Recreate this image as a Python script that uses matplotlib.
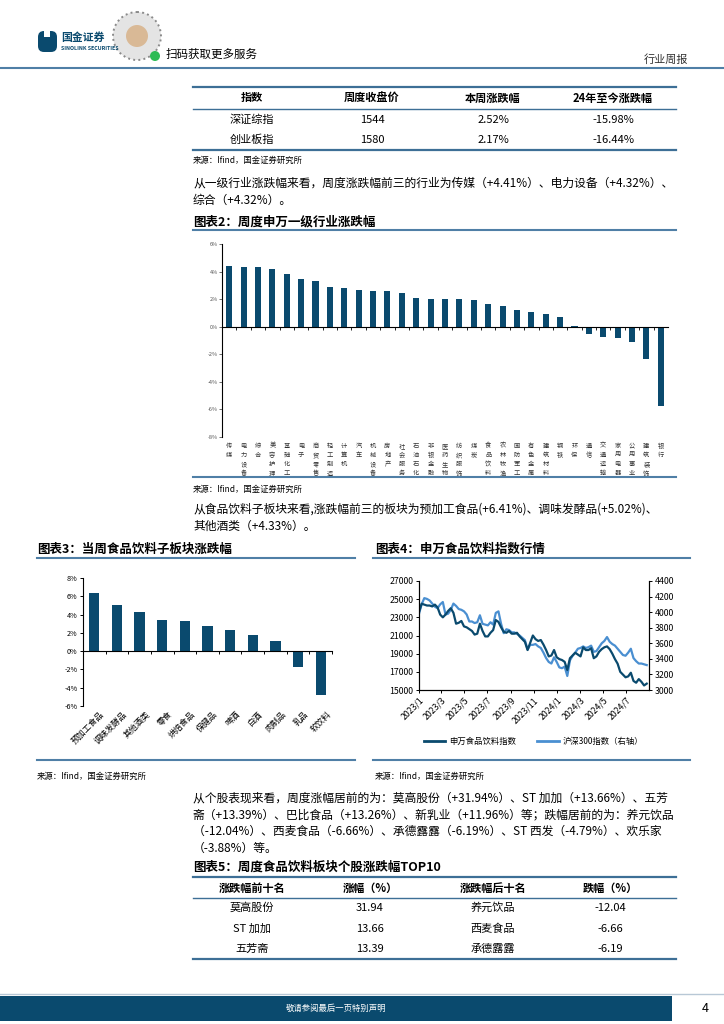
import matplotlib
matplotlib.use("Agg")
import matplotlib.pyplot as plt
import matplotlib.dates as mdates
import matplotlib.ticker as mticker
import numpy as np
import pandas as pd
from matplotlib.lines import Line2D
from matplotlib.patches import Rectangle, Circle, FancyBboxPatch

plt.rcParams['font.family'] = ['Noto Sans CJK SC', 'DejaVu Sans']
plt.rcParams['axes.unicode_minus'] = False

# ---- data ----
idx_names = ['深证综指', '创业板指']
idx_close = ['1544', '1580']
idx_week = ['2.52%', '2.17%']
idx_ytd = ['-15.98%', '-16.44%']

sw_inds = ['传媒', '电力设备', '综合', '美容护理', '基础化工', '电子', '商贸零售', '轻工制造',
           '计算机', '汽车', '机械设备', '房地产', '社会服务', '石油石化', '非银金融', '医药生物',
           '纺织服饰', '煤炭', '食品饮料', '农林牧渔', '国防军工', '有色金属', '建筑材料', '钢铁',
           '环保', '通信', '交通运输', '家用电器', '公用事业', '建筑装饰', '银行']
sw_chg = [4.41, 4.32, 4.32, 4.21, 3.80, 3.44, 3.29, 2.91, 2.78, 2.69, 2.61, 2.56, 2.47, 2.08, 2.03,
          2.03, 2.00, 1.91, 1.65, 1.48, 1.23, 1.09, 0.94, 0.72, 0.02, -0.51, -0.75, -0.82, -1.14,
          -2.33, -5.77]

sub_names = ['预加工食品', '调味发酵品', '其他酒类', '零食', '烘焙食品', '保健品', '啤酒', '白酒',
             '肉制品', '乳品', '软饮料']
sub_chg = [6.41, 5.02, 4.33, 3.38, 3.31, 2.76, 2.28, 1.73, 1.10, -1.69, -4.78]

food_idx = [23600, 24500, 24400, 24300, 24300, 24200, 24400, 24100, 23300, 23000,
            23300, 23700, 24000, 23500, 22300, 22400, 22600, 22000, 21900, 21700,
            21500, 21100, 21200, 22300, 21500, 20900, 20900, 21300, 21600, 22700,
            22500, 21900, 21400, 21300, 21500, 21200, 21200, 21300, 20900, 20600,
            20300, 19400, 20200, 21000, 20600, 20400, 20500, 20000, 19400, 18700,
            18800, 19400, 18600, 18400, 18300, 18100, 17200, 18500, 18800, 19100,
            18900, 18700, 19700, 19400, 19400, 19600, 18500, 18700, 19200, 19500,
            19700, 19800, 19500, 19000, 18400, 17900, 17000, 16700, 16400, 16500,
            16900, 16000, 15800, 16200, 15900, 15500, 15700]
hs300 = [3980, 4100, 4180, 4170, 4150, 4110, 4070, 4050, 4100, 4130,
         3970, 3980, 4030, 4110, 4080, 4040, 4030, 4010, 3970, 3880,
         3880, 3860, 3870, 3960, 3850, 3840, 3830, 3870, 3840, 3990,
         4010, 3850, 3730, 3780, 3770, 3740, 3740, 3720, 3700, 3670,
         3640, 3520, 3580, 3580, 3590, 3560, 3540, 3480, 3410, 3360,
         3340, 3420, 3360, 3290, 3280, 3300, 3180, 3380, 3440, 3480,
         3530, 3540, 3560, 3540, 3550, 3570, 3490, 3500, 3550, 3600,
         3630, 3680, 3620, 3590, 3570, 3530, 3490, 3450, 3440, 3480,
         3530, 3410, 3370, 3340, 3340, 3330, 3320]
dates = pd.date_range('2023-01-01', periods=len(food_idx), freq='7D')

top_names = ['莫高股份', 'ST 加加', '五芳斋']
top_chg = ['31.94', '13.66', '13.39']
bot_names = ['养元饮品', '西麦食品', '承德露露']
bot_chg = ['-12.04', '-6.66', '-6.19']

BAR = '#0a4a6e'
LIGHT = '#4a8fd1'
RULE = '#3d6f96'

W, H = 724, 1024
fig = plt.figure(figsize=(W / 100, H / 100), dpi=100)

# overlay axes in pixel units, for header / footer shapes
deco = fig.add_axes([0, 0, 1, 1], zorder=-1)
deco.set_xlim(0, W)
deco.set_ylim(H, 0)
deco.axis('off')


def fx(x):
    return x / W


def fy(y):
    return 1 - y / H


def txt(x, y, s, size=8.5, ha='left', va='center', **kw):
    fig.text(fx(x), fy(y), s, fontsize=size, ha=ha, va=va, **kw)


def hline(x0, x1, y, color=RULE, lw=1.0):
    fig.add_artist(Line2D([fx(x0), fx(x1)], [fy(y), fy(y)], color=color, lw=lw))


def axes_px(l, t, r, b):
    return fig.add_axes([fx(l), fy(b), (r - l) / W, (b - t) / H])


# ---- header ----
deco.add_patch(FancyBboxPatch((38, 31), 19, 21, boxstyle='round,pad=0,rounding_size=6', fc=BAR, ec='none'))
deco.add_patch(Rectangle((44, 31), 6, 6, fc='white', ec='none'))
txt(61, 38, '国金证券', size=7.8, weight='bold', color=BAR)
txt(61, 48, 'SINOLINK SECURITIES', size=3.8, weight='bold', color=BAR)
deco.add_patch(Circle((137, 36), 24, fc='#e4e4e4', ec='#8a8a8a', lw=1.4, ls=':'))
deco.add_patch(Circle((137, 36), 11, fc='#d9b996', ec='none'))
deco.add_patch(Circle((155, 56), 5, fc='#2dbb55', ec='none'))
txt(166, 54, '扫码获取更多服务', size=8.3)
txt(688, 60, '行业周报', size=8, ha='right', color='#333333')
hline(0, 724, 68, color='#4f7fa6', lw=1.5)

# ---- table 1 ----
cols1 = [252, 372, 493, 613]
hline(193, 676, 87, lw=1.6)
for x, s in zip(cols1, ['指数', '周度收盘价', '本周涨跌幅', '24年至今涨跌幅']):
    txt(x, 98, s, size=8, ha='center', weight='bold')
hline(193, 676, 109, lw=1.0)
for i, y in enumerate([120, 140]):
    for x, s in zip(cols1, [idx_names[i], idx_close[i], idx_week[i], idx_ytd[i]]):
        txt(x, y, s, size=8, ha='center')
hline(193, 676, 150, lw=1.6)
txt(193, 160, '来源：Ifind，国金证券研究所', size=6)

txt(193, 183, '从一级行业涨跌幅来看，周度涨跌幅前三的行业为传媒（+4.41%）、电力设备（+4.32%）、')
txt(193, 200, '综合（+4.32%）。')

# ---- chart 2 ----
txt(193, 222, '图表2：周度申万一级行业涨跌幅', size=9, weight='bold', style='italic')
hline(193, 676, 230, color='#4f7fa6', lw=1.5)
ax2 = axes_px(222, 244, 668, 437)
x2 = np.arange(len(sw_inds))
ax2.bar(x2, sw_chg, width=0.42, color=BAR)
ax2.set_xlim(-0.5, len(sw_inds) - 0.5)
ax2.set_ylim(-8, 6)
ax2.yaxis.set_major_locator(mticker.MultipleLocator(2))
ax2.yaxis.set_major_formatter(mticker.FuncFormatter(lambda v, p: f'{v:.0f}%'))
ax2.tick_params(axis='y', labelsize=4, colors='#555555', length=2, width=0.6, pad=1)
for s in ['top', 'right']:
    ax2.spines[s].set_visible(False)
ax2.spines['left'].set_linewidth(0.8)
ax2.spines['bottom'].set_position(('data', 0))
ax2.spines['bottom'].set_linewidth(0.8)
ax2.set_xticks(x2[:-1] + 0.5)
ax2.tick_params(axis='x', length=2, width=0.6, labelbottom=False)
for i, name in enumerate(sw_inds):
    ax2.text(i, -0.025, '\n'.join(name), transform=ax2.get_xaxis_transform(), ha='center', va='top',
             fontsize=4.5, linespacing=1.2, color='#333333')
hline(193, 676, 477, color='#4f7fa6', lw=1.5)
txt(193, 489, '来源：Ifind，国金证券研究所', size=6)

txt(193, 509, '从食品饮料子板块来看,涨跌幅前三的板块为预加工食品(+6.41%)、调味发酵品(+5.02%)、')
txt(193, 526, '其他酒类（+4.33%）。')

# ---- chart 3 ----
txt(37, 549, '图表3：当周食品饮料子板块涨跌幅', size=9, weight='bold', style='italic')
hline(37, 355, 558, color='#4f7fa6', lw=1.5)
ax3 = axes_px(83, 578, 332, 706)
x3 = np.arange(len(sub_names))
ax3.bar(x3, sub_chg, width=0.45, color=BAR)
ax3.set_xlim(-0.5, len(sub_names) - 0.5)
ax3.set_ylim(-6, 8)
ax3.yaxis.set_major_locator(mticker.MultipleLocator(2))
ax3.yaxis.set_major_formatter(mticker.FuncFormatter(lambda v, p: f'{v:.0f}%'))
ax3.tick_params(axis='y', labelsize=5.2, length=2.5, width=0.7, pad=1.5)
for s in ['top', 'right']:
    ax3.spines[s].set_visible(False)
ax3.spines['bottom'].set_position(('data', 0))
ax3.set_xticks(x3 + 0.5)
ax3.tick_params(axis='x', length=2.5, width=0.7, labelbottom=False)
for i, name in enumerate(sub_names):
    ax3.text(i + 0.25, -0.03, name, transform=ax3.get_xaxis_transform(), ha='right', va='top',
             rotation=45, rotation_mode='anchor', fontsize=6)
hline(37, 355, 760, color='#4f7fa6', lw=1.5)
txt(37, 776, '来源：Ifind，国金证券研究所', size=6)

# ---- chart 4 ----
txt(375, 549, '图表4：申万食品饮料指数行情', size=9, weight='bold', style='italic')
hline(373, 690, 558, color='#4f7fa6', lw=1.5)
ax4 = axes_px(419, 581, 649, 690)
ax4.plot(dates, food_idx, color=BAR, lw=1.6)
ax4.set_ylim(15000, 27000)
ax4.yaxis.set_major_locator(mticker.FixedLocator(np.arange(15000, 27001, 2000)))
ax4.set_xlim(pd.Timestamp('2023-01-01'), pd.Timestamp('2024-08-31'))
ax4.xaxis.set_major_locator(mdates.MonthLocator(bymonth=[1, 3, 5, 7, 9, 11]))
ax4.xaxis.set_major_formatter(mticker.FuncFormatter(
    lambda v, p: f'{mdates.num2date(v).year}/{mdates.num2date(v).month}'))
ax4.tick_params(axis='both', labelsize=6.3, length=2.5, width=0.7, pad=1.5)
plt.setp(ax4.get_xticklabels(), rotation=45, ha='right', rotation_mode='anchor')
ax4r = ax4.twinx()
ax4r.plot(dates, hs300, color=LIGHT, lw=1.6)
ax4r.set_ylim(3000, 4400)
ax4r.yaxis.set_major_locator(mticker.MultipleLocator(200))
ax4r.tick_params(axis='y', labelsize=6.3, length=2.5, width=0.7, pad=1.5)
ax4.spines['top'].set_visible(False)
ax4r.spines['top'].set_visible(False)
ax4.set_zorder(ax4r.get_zorder() + 1)
ax4.patch.set_visible(False)
handles = [Line2D([], [], color=BAR, lw=2), Line2D([], [], color=LIGHT, lw=2)]
fig.legend(handles, ['申万食品饮料指数', '沪深300指数（右轴）'], loc='center left',
           bbox_to_anchor=(fx(416), fy(741)), ncol=2, frameon=False, fontsize=6,
           handlelength=2.6, columnspacing=2.5, handletextpad=0.5)
hline(373, 690, 760, color='#4f7fa6', lw=1.5)
txt(375, 776, '来源：Ifind，国金证券研究所', size=6)

# ---- paragraph 3 ----
lines3 = ['从个股表现来看，周度涨幅居前的为：莫高股份（+31.94%）、ST 加加（+13.66%）、五芳',
          '斋（+13.39%）、巴比食品（+13.26%）、新乳业（+11.96%）等；跌幅居前的为：养元饮品',
          '（-12.04%）、西麦食品（-6.66%）、承德露露（-6.19%）、ST 西发（-4.79%）、欢乐家',
          '（-3.88%）等。']
for k, s in enumerate(lines3):
    txt(193, 798 + 16.8 * k, s)

# ---- table 5 ----
txt(193, 867, '图表5：周度食品饮料板块个股涨跌幅TOP10', size=9, weight='bold', style='italic')
cols5 = [252, 370, 493, 610]
hline(193, 676, 877, lw=1.6)
for x, s in zip(cols5, ['涨跌幅前十名', '涨幅（%）', '涨跌幅后十名', '跌幅（%）']):
    txt(x, 888, s, size=8, ha='center', weight='bold')
hline(193, 676, 898, lw=1.0)
for i, y in enumerate([908, 929, 949]):
    for x, s in zip(cols5, [top_names[i], top_chg[i], bot_names[i], bot_chg[i]]):
        txt(x, y, s, size=8, ha='center')
hline(193, 676, 959, lw=1.6)

# ---- footer ----
hline(0, 724, 994, color='#b8c8d6', lw=1.0)
deco.add_patch(Rectangle((0, 996), 672, 25, fc=BAR, ec='none'))
txt(336, 1008, '敬请参阅最后一页特别声明', size=6, ha='center', color='white')
txt(705, 1008, '4', size=9, ha='center')

fig.savefig('out.png', dpi=100)
